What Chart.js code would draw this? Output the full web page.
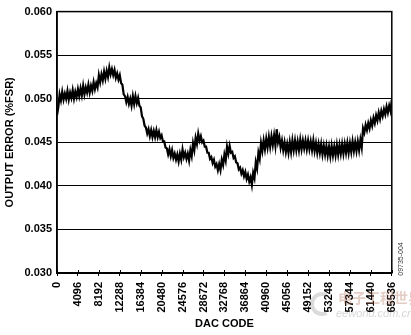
<!DOCTYPE html>
<html>
<head>
<meta charset="utf-8">
<script src="https://cdn.jsdelivr.net/npm/chart.js@4"></script>
<style>
  html, body { margin: 0; padding: 0; background: #fff; }
  #wrap { width: 411px; height: 335px; }
</style>
</head>
<body>
<div id="wrap"><canvas id="myChart" width="411" height="335"></canvas></div>
<script>
// The trace is a noisy band: its top edge is read at codes k*512,
// its bottom edge halfway between, and the line zigzags between the two.
const upperCodes = [
  0, 512, 1024, 1536, 2048, 2560, 3072, 3584, 4096, 4608, 5120, 5632, 6144, 6656, 7168, 7680,
  8192, 8704, 9216, 9728, 10240, 10752, 11264, 11776, 12288, 12800, 13312, 13824, 14336, 14848, 15360, 15872,
  16384, 16896, 17408, 17920, 18432, 18944, 19456, 19968, 20480, 20992, 21504, 22016, 22528, 23040, 23552, 24064,
  24576, 25088, 25600, 26112, 26624, 27136, 27648, 28160, 28672, 29184, 29696, 30208, 30720, 31232, 31744, 32256,
  32768, 33280, 33792, 34304, 34816, 35328, 35840, 36352, 36864, 37376, 37888, 38400, 38912, 39424, 39936, 40448,
  40960, 41472, 41984, 42496, 43008, 43520, 44032, 44544, 45056, 45568, 46080, 46592, 47104, 47616, 48128, 48640,
  49152, 49664, 50176, 50688, 51200, 51712, 52224, 52736, 53248, 53760, 54272, 54784, 55296, 55808, 56320, 56832,
  57344, 57856, 58368, 58880, 59392, 59904, 60416, 60928, 61440, 61952, 62464, 62976, 63488, 64000, 64512, 65024,
  65536
];
const upperEdge = [
  0.0481, 0.0505, 0.0508, 0.0506, 0.0509, 0.0507, 0.0510, 0.0508, 0.0511, 0.0512, 0.0515, 0.0513, 0.0516, 0.0515, 0.0519, 0.0518,
  0.0527, 0.0528, 0.0531, 0.0532, 0.0536, 0.0534, 0.0533, 0.0529, 0.0527, 0.0516, 0.0503, 0.0502, 0.0500, 0.0503, 0.0503, 0.0501,
  0.0490, 0.0477, 0.0467, 0.0465, 0.0464, 0.0463, 0.0464, 0.0462, 0.0458, 0.0451, 0.0443, 0.0442, 0.0441, 0.0437, 0.0436, 0.0437,
  0.0442, 0.0438, 0.0437, 0.0441, 0.0449, 0.0455, 0.0460, 0.0457, 0.0452, 0.0445, 0.0438, 0.0433, 0.0430, 0.0425, 0.0425, 0.0430,
  0.0436, 0.0445, 0.0446, 0.0439, 0.0434, 0.0426, 0.0421, 0.0418, 0.0416, 0.0413, 0.0410, 0.0415, 0.0427, 0.0438, 0.0449, 0.0452,
  0.0454, 0.0456, 0.0457, 0.0458, 0.0465, 0.0456, 0.0452, 0.0450, 0.0448, 0.0450, 0.0452, 0.0452, 0.0451, 0.0453, 0.0452, 0.0452,
  0.0452, 0.0451, 0.0452, 0.0449, 0.0448, 0.0448, 0.0446, 0.0446, 0.0445, 0.0446, 0.0445, 0.0447, 0.0447, 0.0448, 0.0448, 0.0449,
  0.0449, 0.0451, 0.0450, 0.0451, 0.0453, 0.0466, 0.0470, 0.0472, 0.0475, 0.0478, 0.0481, 0.0484, 0.0486, 0.0488, 0.0491, 0.0492,
  0.0499
];
const lowerCodes = [
  256, 768, 1280, 1792, 2304, 2816, 3328, 3840, 4352, 4864, 5376, 5888, 6400, 6912, 7424, 7936,
  8448, 8960, 9472, 9984, 10496, 11008, 11520, 12032, 12544, 13056, 13568, 14080, 14592, 15104, 15616, 16128,
  16640, 17152, 17664, 18176, 18688, 19200, 19712, 20224, 20736, 21248, 21760, 22272, 22784, 23296, 23808, 24320,
  24832, 25344, 25856, 26368, 26880, 27392, 27904, 28416, 28928, 29440, 29952, 30464, 30976, 31488, 32000, 32512,
  33024, 33536, 34048, 34560, 35072, 35584, 36096, 36608, 37120, 37632, 38144, 38656, 39168, 39680, 40192, 40704,
  41216, 41728, 42240, 42752, 43264, 43776, 44288, 44800, 45312, 45824, 46336, 46848, 47360, 47872, 48384, 48896,
  49408, 49920, 50432, 50944, 51456, 51968, 52480, 52992, 53504, 54016, 54528, 55040, 55552, 56064, 56576, 57088,
  57600, 58112, 58624, 59136, 59648, 60160, 60672, 61184, 61696, 62208, 62720, 63232, 63744, 64256, 64768, 65280
];
const lowerEdge = [
  0.0490, 0.0498, 0.0499, 0.0500, 0.0499, 0.0501, 0.0500, 0.0502, 0.0503, 0.0504, 0.0505, 0.0507, 0.0507, 0.0509, 0.0511, 0.0513,
  0.0519, 0.0521, 0.0523, 0.0525, 0.0528, 0.0527, 0.0524, 0.0522, 0.0518, 0.0505, 0.0496, 0.0494, 0.0492, 0.0494, 0.0495, 0.0492,
  0.0480, 0.0469, 0.0460, 0.0457, 0.0456, 0.0456, 0.0456, 0.0455, 0.0451, 0.0444, 0.0436, 0.0434, 0.0432, 0.0430, 0.0428, 0.0430,
  0.0433, 0.0431, 0.0429, 0.0434, 0.0441, 0.0448, 0.0452, 0.0450, 0.0445, 0.0438, 0.0431, 0.0426, 0.0422, 0.0418, 0.0418, 0.0424,
  0.0429, 0.0437, 0.0438, 0.0432, 0.0427, 0.0419, 0.0414, 0.0411, 0.0408, 0.0405, 0.0401, 0.0409, 0.0420, 0.0431, 0.0440, 0.0442,
  0.0444, 0.0445, 0.0447, 0.0446, 0.0450, 0.0444, 0.0441, 0.0439, 0.0438, 0.0439, 0.0441, 0.0441, 0.0441, 0.0442, 0.0443, 0.0442,
  0.0442, 0.0441, 0.0440, 0.0438, 0.0438, 0.0436, 0.0436, 0.0435, 0.0434, 0.0435, 0.0435, 0.0436, 0.0437, 0.0437, 0.0438, 0.0438,
  0.0439, 0.0440, 0.0440, 0.0441, 0.0444, 0.0461, 0.0464, 0.0466, 0.0469, 0.0472, 0.0475, 0.0477, 0.0480, 0.0482, 0.0484, 0.0486
];

const xTicks = [0, 4096, 8192, 12288, 16384, 20480, 24576, 28672, 32768, 36864, 40960, 45056, 49152, 53248, 57344, 61440, 65536];
const yTicks = [0.030, 0.035, 0.040, 0.045, 0.050, 0.055, 0.060];

// zigzag top / bottom
const points = [];
upperCodes.forEach((c, i) => {
  points.push({ x: c, y: upperEdge[i] });
  if (i < lowerCodes.length) points.push({ x: lowerCodes[i], y: lowerEdge[i] });
});

// frame, inward tick marks and the side texts
const extras = {
  id: 'extras',
  afterDraw(chart) {
    const { ctx, chartArea: a, scales } = chart;
    ctx.save();
    ctx.strokeStyle = '#000';
    ctx.lineWidth = 1.5;
    ctx.strokeRect(a.left, a.top, a.right - a.left, a.bottom - a.top);
    ctx.lineWidth = 1;
    xTicks.forEach(t => {
      const px = Math.round(scales.x.getPixelForValue(t)) + 0.5;
      ctx.beginPath();
      ctx.moveTo(px, a.bottom - 3);
      ctx.lineTo(px, a.bottom);
      ctx.stroke();
    });
    // figure number
    ctx.translate(401, 259);
    ctx.rotate(-Math.PI / 2);
    ctx.font = '7px "Liberation Sans"';
    ctx.fillStyle = '#333';
    ctx.textAlign = 'center';
    ctx.textBaseline = 'middle';
    ctx.fillText('09735-004', 0, 0);
    ctx.restore();

    // faint watermark
    ctx.save();
    ctx.globalAlpha = 0.35;
    ctx.fillStyle = '#b0705a';
    ctx.font = 'bold 14px "Noto Sans CJK SC"';
    ctx.textBaseline = 'middle';
    ctx.fillText('电子工程世界', 338, 298);
    ctx.fillStyle = '#8a8a8a';
    ctx.font = 'italic 11px "Liberation Sans"';
    ctx.fillText('eeworld.com.cn', 336, 314);
    ctx.beginPath();
    ctx.arc(322, 304, 10, Math.PI * 0.35, Math.PI * 1.65);
    ctx.lineWidth = 4;
    ctx.strokeStyle = '#999';
    ctx.stroke();
    ctx.restore();
  }
};

new Chart(document.getElementById('myChart'), {
  type: 'line',
  data: {
    datasets: [{
      data: points,
      borderColor: '#000',
      borderWidth: 2.2,
      pointRadius: 0,
      tension: 0,
      fill: false
    }]
  },
  options: {
    responsive: false,
    animation: false,
    events: [],
    layout: { padding: { top: 5, right: 19, bottom: 0, left: 0 } },
    plugins: { legend: { display: false }, tooltip: { enabled: false } },
    scales: {
      x: {
        type: 'linear',
        min: 0,
        max: 65536,
        afterBuildTicks: s => { s.ticks = xTicks.map(v => ({ value: v })); },
        afterFit: s => { s.height = 62; },
        grid: { drawOnChartArea: false, color: '#000', tickLength: 3 },
        border: { color: '#000', width: 1.5 },
        ticks: {
          autoSkip: false,
          minRotation: 90,
          maxRotation: 90,
          padding: 6,
          color: '#000',
          font: { family: 'Liberation Sans', weight: 'bold', size: 11 },
          callback: v => String(v)
        },
        title: {
          display: true,
          text: 'DAC CODE',
          color: '#000',
          padding: { top: 0, bottom: 4 },
          font: { family: 'Liberation Sans', weight: 'bold', size: 11 }
        }
      },
      y: {
        min: 0.030,
        max: 0.060,
        afterBuildTicks: s => { s.ticks = yTicks.map(v => ({ value: v })); },
        afterFit: s => { s.width = 57; },
        grid: { color: '#000', lineWidth: 1, drawTicks: false },
        border: { color: '#000', width: 1.5 },
        ticks: {
          padding: 5,
          color: '#000',
          font: { family: 'Liberation Sans', weight: 'bold', size: 11 },
          callback: v => v.toFixed(3)
        },
        title: {
          display: true,
          text: 'OUTPUT ERROR (%FSR)',
          color: '#000',
          padding: { top: 3, bottom: 0 },
          font: { family: 'Liberation Sans', weight: 'bold', size: 11 }
        }
      }
    }
  },
  plugins: [extras]
});
</script>
</body>
</html>
